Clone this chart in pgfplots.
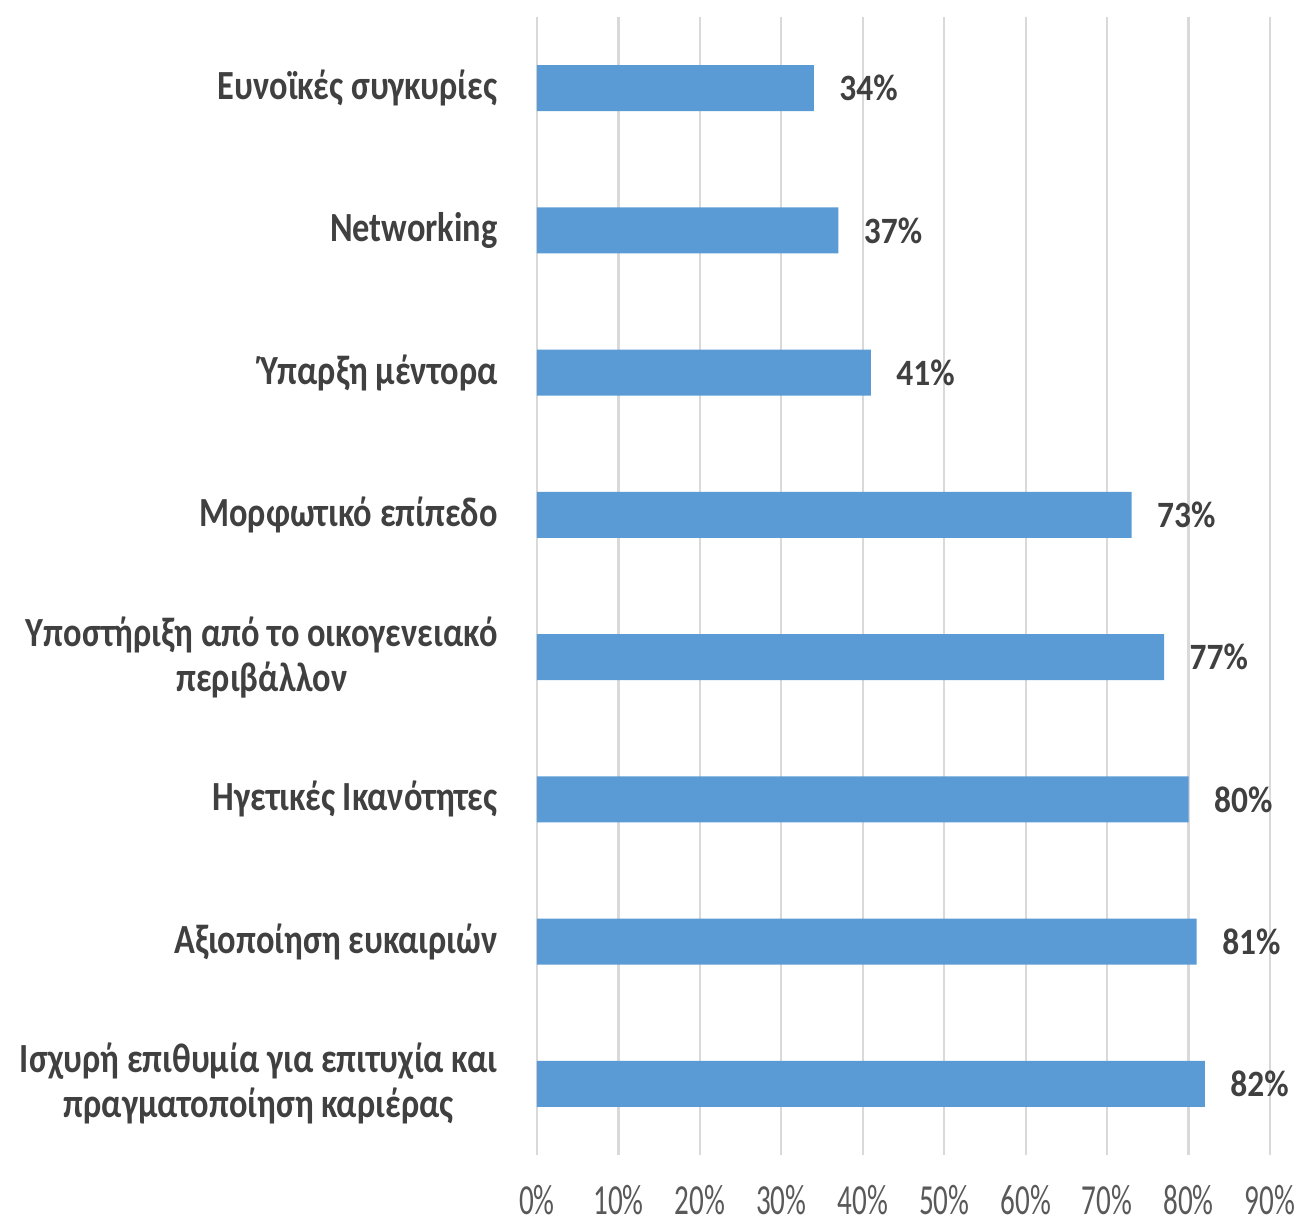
\documentclass[border=0pt]{standalone}
\usepackage{pgfplots}
\pgfplotsset{compat=1.18}
\usepackage{fontspec}
\setmainfont{Carlito}
\newfontfamily\catfont[FakeStretch=0.83]{Carlito}
\newfontfamily\tickfont[FakeStretch=0.68]{Carlito}
\newfontfamily\valfont[FakeStretch=0.90]{Carlito}
\definecolor{barblue}{HTML}{5B9BD5}
\definecolor{gridgray}{HTML}{D9D9D9}
\definecolor{labeltext}{HTML}{404040}
\definecolor{ticktext}{HTML}{595959}

\begin{document}
\begin{tikzpicture}
\begin{axis}[
    xbar,
    scale only axis,
    width=256.55pt,
    height=398.3pt,
    xmin=0, xmax=90,
    ymin=-0.5, ymax=7.5,
    y dir=reverse,
    bar width=0.324,
    axis line style={draw=none},
    major tick length=0pt,
    xmajorgrids,
    grid style={gridgray, line width=0.8pt},
    xtick={0,10,...,90},
    xticklabel={\pgfmathprintnumber{\tick}\%},
    /pgf/number format/assume math mode=true,
    xticklabel style={font=\tickfont\fontsize{15}{15}\selectfont, text=ticktext,
        anchor=base, inner sep=0pt, yshift=-21pt},
    ytick={0,...,7},
    yticklabels={
        {Ευνοϊκές συγκυρίες},
        {Networking},
        {Ύπαρξη μέντορα},
        {Μορφωτικό επίπεδο},
        {Υποστήριξη από το οικογενειακό\\περιβάλλον},
        {Ηγετικές Ικανότητες},
        {Αξιοποίηση ευκαιριών},
        {Ισχυρή επιθυμία για επιτυχία και\\πραγματοποίηση καριέρας}},
    yticklabel style={font=\catfont\bfseries\fontsize{14.5}{15.75}\selectfont,
        text=labeltext, align=center, inner sep=0pt, xshift=-13.6pt},
    nodes near coords={\pgfmathprintnumber{\pgfplotspointmeta}\%},
    every node near coord/.append style={font=\valfont\bfseries\fontsize{13}{13}\selectfont,
        text=labeltext, anchor=west, inner sep=0pt, xshift=8.75pt},
]
\addplot[fill=barblue, draw=none] coordinates {
    (34,0) (37,1) (41,2) (73,3) (77,4) (80,5) (81,6) (82,7)
};
\coordinate (TL) at (axis description cs:0,1);
\coordinate (BR) at (axis description cs:1,0);
\end{axis}
\pgfresetboundingbox
\path ([xshift=-187.95pt, yshift=5.95pt]TL) rectangle ([xshift=12.95pt, yshift=-23.8pt]BR);
\end{tikzpicture}
\end{document}
